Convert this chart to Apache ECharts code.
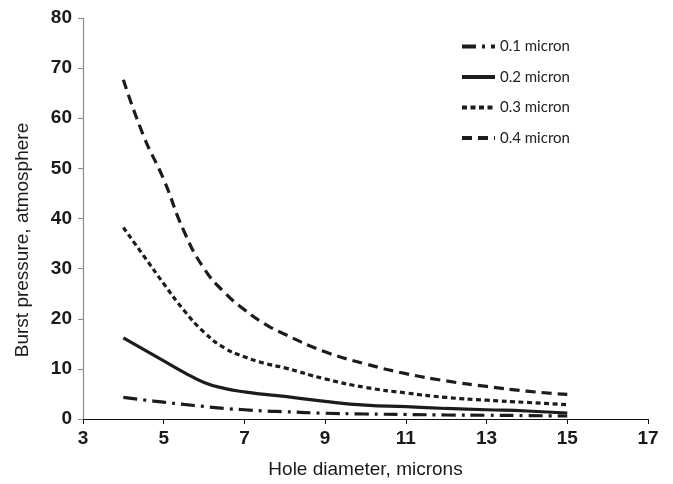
<!DOCTYPE html>
<html>
<head>
<meta charset="utf-8">
<script src="https://cdn.jsdelivr.net/npm/echarts@6/dist/echarts.min.js"></script>
<style>
  html, body { margin: 0; padding: 0; background: #fff; }
  #chart { width: 673px; height: 484px; }
</style>
</head>
<body>
<div id="chart"></div>
<script>
// hole diameter, microns
var holeDiameter = [4, 4.5, 5, 5.5, 6, 6.5, 7, 7.5, 8, 9, 10, 11, 12, 13, 14, 15];
// burst pressure, atmosphere, per membrane thickness
var p01 = [4.3, 3.8, 3.35, 2.9, 2.5, 2.1, 1.85, 1.6, 1.45, 1.15, 1.0, 0.9, 0.8, 0.75, 0.68, 0.6];
var p02 = [16.2, 13.9, 11.6, 9.3, 7.3, 6.1, 5.4, 4.9, 4.5, 3.5, 2.75, 2.45, 2.1, 1.85, 1.6, 1.2];
var p03 = [38.2, 32.6, 27, 21.7, 17.3, 14.2, 12.4, 11.1, 10.2, 8.0, 6.3, 5.2, 4.3, 3.75, 3.3, 2.85];
var p04 = [67.7, 56.5, 47.8, 37.5, 30, 25.3, 21.8, 19, 16.9, 13.4, 11.0, 9.05, 7.6, 6.5, 5.55, 4.9];
var names = ['0.1 micron', '0.2 micron', '0.3 micron', '0.4 micron'];

function pairs(ys) {
	return holeDiameter.map(function (x, i) { return [x, ys[i]]; });
}

var ink = '#1c1c1c';
function line(name, ys, type) {
	return {
		name: name,
		type: 'line',
		smooth: true,
		symbol: 'none',
		data: pairs(ys),
		lineStyle: { color: ink, width: 3.2, type: type },
		itemStyle: { color: ink }
	};
}

var chart = echarts.init(document.getElementById('chart'));
chart.setOption({
	animation: false,
	grid: { left: 83, right: 25, top: 18, bottom: 63 },
	legend: {
		orient: 'vertical',
		left: 455,
		top: 34,
		itemWidth: 33,
		itemHeight: 15,
		itemGap: 15.5,
		data: names,
		itemStyle: { opacity: 0, borderWidth: 0 },
		lineStyle: { width: 4 },
		textStyle: { fontFamily: 'Lato', fontSize: 15, color: '#222' }
	},
	xAxis: {
		type: 'value',
		min: 3,
		max: 17,
		interval: 2,
		splitLine: { show: false },
		axisLine: { lineStyle: { color: '#111', width: 1.2 } },
		axisTick: { show: true, length: 5, lineStyle: { color: '#111' } },
		axisLabel: { margin: 10, color: '#1a1a1a', fontFamily: 'Liberation Sans', fontWeight: 'bold', fontSize: 19 },
		name: 'Hole diameter, microns',
		nameLocation: 'middle',
		nameGap: 41,
		nameTextStyle: { color: '#1a1a1a', fontFamily: 'Liberation Sans', fontSize: 19 }
	},
	yAxis: {
		type: 'value',
		min: 0,
		max: 80,
		interval: 10,
		splitLine: { show: false },
		axisLine: { show: true, lineStyle: { color: '#8a8a8a', width: 1.2 } },
		axisTick: { show: true, length: 5, lineStyle: { color: '#8a8a8a' } },
		axisLabel: { margin: 11, color: '#1a1a1a', fontFamily: 'Liberation Sans', fontWeight: 'bold', fontSize: 19 }
	},
	graphic: [{
		type: 'text',
		x: 23,
		y: 240,
		rotation: Math.PI / 2,
		style: {
			text: 'Burst pressure, atmosphere',
			fill: '#1a1a1a',
			font: '19px "Liberation Sans"',
			align: 'center',
			verticalAlign: 'middle'
		}
	}],
	series: [
		line(names[0], p01, [14, 6, 3, 6]),
		line(names[1], p02, 'solid'),
		line(names[2], p03, [5, 3.5]),
		line(names[3], p04, [10, 6])
	]
});
</script>
</body>
</html>
